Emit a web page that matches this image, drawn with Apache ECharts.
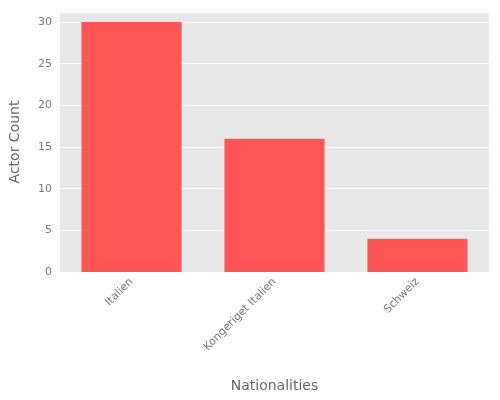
<!DOCTYPE html>
<html><head><meta charset="utf-8">
<script src="https://cdn.jsdelivr.net/npm/echarts@6/dist/echarts.min.js"></script>
<style>html,body{margin:0;padding:0}#c{width:500px;height:400px}</style>
</head><body><div id="c"></div>
<script>
const categories = ["Italien", "Kongeriget Italien", "Schweiz"];
const actorCount = [30, 16, 4];
const chart = echarts.init(document.getElementById('c'));
chart.setOption({
  animation: false,
  grid: {left: 59, right: 11, top: 12, bottom: 128, show: true, backgroundColor: '#e8e8e8', borderWidth: 0},
  xAxis: {
    type: 'category', data: categories,
    name: 'Nationalities', nameLocation: 'middle', nameGap: 107,
    nameTextStyle: {color: '#666', fontSize: 14, fontFamily: 'DejaVu Sans'},
    axisLine: {show: false}, axisTick: {show: false},
    axisLabel: {rotate: 45, color: '#777', fontSize: 11, fontFamily: 'DejaVu Sans', interval: 0}
  },
  yAxis: {
    type: 'value', min: 0, max: 31.2, interval: 5,
    name: 'Actor Count', nameLocation: 'middle', nameGap: 38,
    nameTextStyle: {color: '#666', fontSize: 14, fontFamily: 'DejaVu Sans'},
    axisLine: {show: false}, axisTick: {show: false},
    axisLabel: {color: '#777', fontSize: 11, fontFamily: 'DejaVu Sans', showMaxLabel: false},
    splitLine: {lineStyle: {color: '#fff', width: 1}}
  },
  series: [{type: 'bar', data: actorCount, barWidth: '70%', itemStyle: {color: '#ff5555'}}]
});
</script></body></html>
